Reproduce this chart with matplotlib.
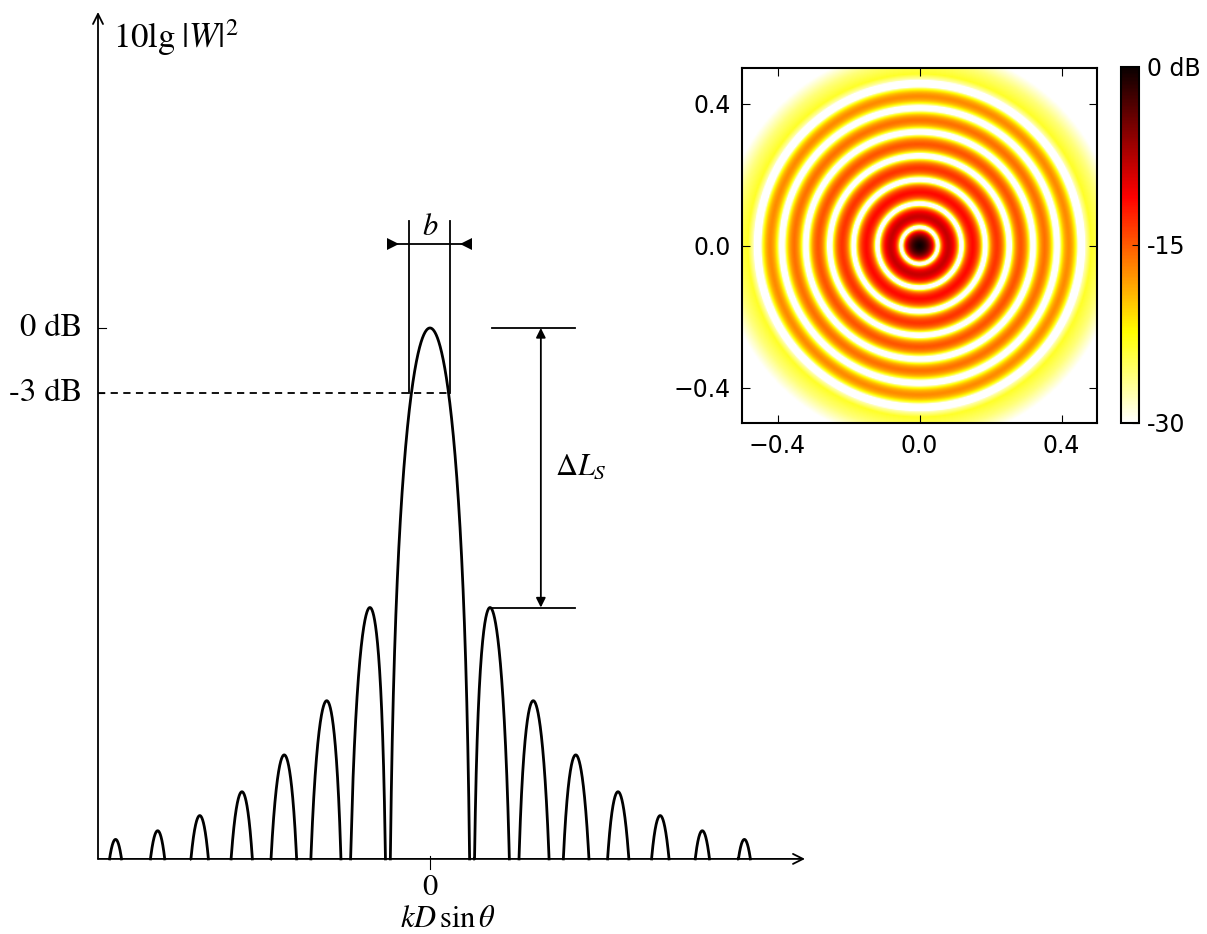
import numpy as np
import matplotlib
matplotlib.use('Agg')
from matplotlib import pyplot as plt

plt.rcParams['mathtext.fontset'] = 'stix'

# side lobe peak levels (dB), lobe 1..7, same on both sides
lobe_db = [-12.9, -17.2, -19.7, -21.4, -22.5, -23.2, -23.6]
floor_db = -24.5
minus3_db = -3.0
b_half = 0.45        # half width of the -3 dB beam (units of pi)
xlim = (-7.905, 8.93)
ylim = (-24.55, 14.58)

# inset (ring array beam pattern)
k_ring = 46.5
null_halfwidth = 0.003
last_null = 21.21 / k_ring
# pale rim outside the last ring
rim_r = [last_null, last_null + 0.014, 0.485, 0.52, 0.565]
rim_db = [-40, -27.5, -23.5, -26.0, -30.5]
cb_ticks = [0, -15, -30]
cb_labels = ['0 dB', '-15', '-30']
inset_ticks = [-0.4, 0.0, 0.4]

W, H = 1207, 934
fig = plt.figure(figsize=(W / 100, H / 100), dpi=100)

def px_box(x0, y0, x1, y1):
    return [x0 / W, 1 - y1 / H, (x1 - x0) / W, (y1 - y0) / H]

ax = fig.add_axes(px_box(98, 12, 805, 860))
ax.set_xlim(*xlim)
ax.set_ylim(*ylim)
ax.axis('off')

# build curve: sinc in dB, each side lobe shifted to the level read above
u = np.linspace(-8.0, 8.0, 16001)
s = np.abs(np.sinc(u)) + 1e-12
L = 20 * np.log10(s)
n = np.floor(np.abs(u)).astype(int)
for i, lev in enumerate(lobe_db):
    m = n == i + 1
    L[m] = L[m] - L[m].max() + lev
L[n > len(lobe_db)] = floor_db
L = np.maximum(L, floor_db)
# only the arches, the baseline itself is the axis
low = L <= floor_db
keep = ~low | np.r_[~low[1:], False] | np.r_[False, ~low[:-1]]
L = np.where(keep, L, np.nan)
ax.plot(u, L, color='black', lw=2.0, solid_joinstyle='round', clip_on=False)

# axes arrows
ax.annotate('', xy=(xlim[1], floor_db), xytext=(xlim[0], floor_db),
            arrowprops=dict(arrowstyle='->', lw=1.3, color='black', shrinkA=0, shrinkB=0,
                            mutation_scale=18))
ax.annotate('', xy=(xlim[0], ylim[1]), xytext=(xlim[0], floor_db),
            arrowprops=dict(arrowstyle='->', lw=1.3, color='black', shrinkA=0, shrinkB=0,
                            mutation_scale=18))

# small ticks
ax.plot([xlim[0], xlim[0] + 0.19], [0, 0], color='black', lw=0.8)
ax.plot([xlim[0] - 0.12, xlim[0] + 0.15], [minus3_db, minus3_db], color='black', lw=0.8)
ax.plot([0, 0], [-24.37, -24.95], color='black', lw=0.8, clip_on=False)

# -3 dB dashed line
ax.plot([xlim[0], b_half + 0.03], [minus3_db, minus3_db], color='black', lw=1.3,
        ls=(0, (4, 3)))

# beam width b
for xb in (-b_half - 0.05, b_half + 0.03):
    ax.plot([xb, xb], [minus3_db, 4.94], color='black', lw=1.3)
ax.plot([-1.0, 0.95], [3.88, 3.88], color='black', lw=1.3)
ax.plot([-0.89], [3.88], marker='>', color='black', ms=8, mew=0)
ax.plot([0.86], [3.88], marker='<', color='black', ms=8, mew=0)
ax.text(0, 4.7, r'$b$', ha='center', va='center', fontsize=22)

# delta L_S
ax.plot([1.48, 3.45], [0, 0], color='black', lw=1.3)
ax.plot([1.48, 3.45], [lobe_db[0], lobe_db[0]], color='black', lw=1.3)
ax.annotate('', xy=(2.64, 0), xytext=(2.64, lobe_db[0]),
            arrowprops=dict(arrowstyle='<|-|>', lw=1.3, color='black', shrinkA=0, shrinkB=0,
                            mutation_scale=14))
ax.text(2.98, -6.4, r'$\Delta L_S$', ha='left', va='center', fontsize=22)

# labels
ax.text(xlim[0] - 0.38, 0, '0 dB', ha='right', va='center', fontsize=23.5,
        family='STIXGeneral', clip_on=False)
ax.text(xlim[0] - 0.38, minus3_db, '-3 dB', ha='right', va='center', fontsize=23.5,
        family='STIXGeneral', clip_on=False)
ax.text(-7.55, 13.4, r'$10\mathrm{lg}\;|W|^2$', ha='left', va='center', fontsize=25)
ax.text(0, -25.85, '0', ha='center', va='center', fontsize=22, family='STIXGeneral',
        clip_on=False)
ax.text(0.43, -27.25, r'$kD\,\sin\theta$', ha='center', va='center', fontsize=22,
        clip_on=False)

# radial profile of J0 (integral form, no scipy), nulls widened a little
rr = np.linspace(0, 0.75, 3001)
tau = np.linspace(0, np.pi, 600)
J0 = np.trapezoid(np.cos(k_ring * rr[:, None] * np.sin(tau)), tau, axis=1) / np.pi
prof = 20 * np.log10(np.abs(J0) + 1e-9)
w = int(null_halfwidth / (rr[1] - rr[0]))
pad = np.r_[np.full(w, prof[0]), prof, np.full(w, prof[-1])]
prof = np.min(np.lib.stride_tricks.sliding_window_view(pad, 2 * w + 1), axis=1)
prof = prof - 5 * rr
out = rr > last_null
prof[out] = np.interp(rr[out], rim_r, rim_db)

N = 301
g = np.linspace(-0.5, 0.5, N)
X, Y = np.meshgrid(g, g)
P = np.interp(np.sqrt(X ** 2 + Y ** 2), rr, prof)

axi = fig.add_axes(px_box(742, 67, 1097, 424))
im = axi.imshow(P, extent=[-0.5, 0.5, -0.5, 0.5], origin='lower', cmap='hot_r',
                vmin=-30, vmax=0, interpolation='bilinear')
axi.set_xticks(inset_ticks)
axi.set_yticks(inset_ticks)
axi.tick_params(direction='in', top=True, right=True, length=6, labelsize=17, pad=8)
for sp in axi.spines.values():
    sp.set_linewidth(1.5)

cax = fig.add_axes(px_box(1121, 67, 1139, 423))
cb = fig.colorbar(im, cax=cax, ticks=cb_ticks)
cb.set_ticklabels(cb_labels)
cax.tick_params(direction='in', length=5, labelsize=17, pad=6)
cb.outline.set_linewidth(1.5)

plt.savefig('out.png', dpi=100)
